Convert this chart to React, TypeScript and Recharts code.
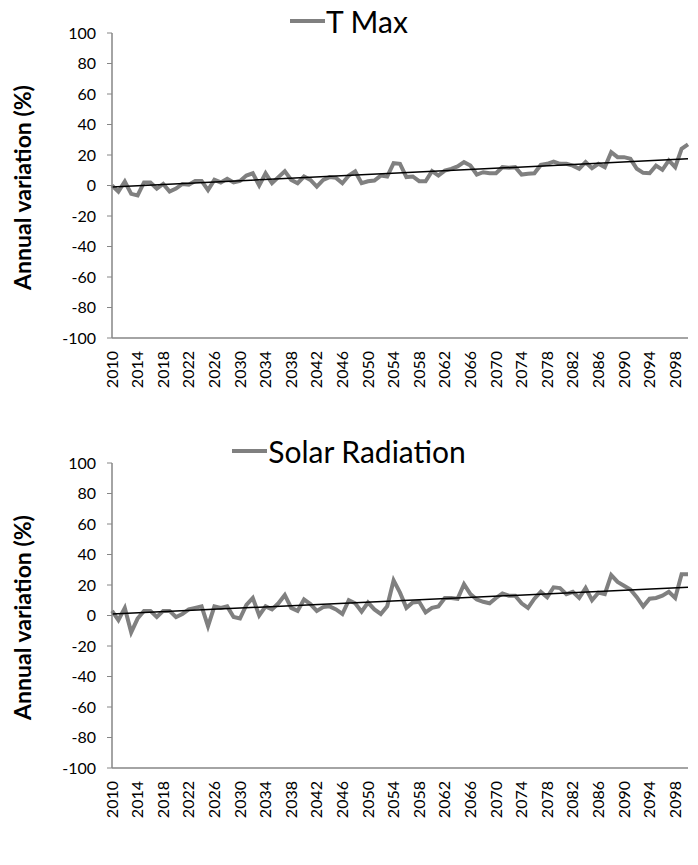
import React from 'react';
import { LineChart, Line, XAxis, YAxis, ReferenceLine, Legend } from 'recharts';

const years: string[] = Array.from({ length: 91 }, (_, i) => String(2010 + i));

const tMax = [
  0, -4, 2.6, -5.5, -6.5, 2, 2, -2, 1, -4,
  -2, 1, 0.5, 3, 3, -3, 3.7, 2, 4.4, 2,
  3, 6.5, 8, 0, 8, 1.5, 5.5, 9.4, 3.7, 1.5,
  5.9, 3.7, -0.7, 3.7, 5.5, 5, 1.5, 6.5, 9.2, 1.5,
  2.8, 3.3, 6.5, 5.9, 14.6, 14.2, 5.5, 5.9, 2.8, 2.8,
  9.4, 6.5, 9.8, 10.9, 12.5, 15.3, 13.1, 7.2, 8.7, 8,
  8, 12, 11.6, 12, 7.2, 7.7, 8, 13.5, 14.2, 15.7,
  14.2, 14.2, 13, 11, 15.3, 11.4, 14.2, 12, 21.9, 18.6,
  18.6, 17.5, 11, 8.3, 8, 13, 10.3, 16.4, 12, 24,
  26.9,
];

const solar = [
  3, -3, 5, -11, -2, 3, 3, -1, 3, 3,
  -1, 1, 4, 5, 6, -7, 6, 5, 6, -1,
  -2, 7, 11.5, 0, 6, 4, 8, 13.5, 5, 3,
  10.5, 7.5, 3, 5.5, 6, 4, 1, 10, 8, 2.5,
  8.5, 4, 1, 6, 23, 15, 5, 8.5, 9, 2,
  5, 6, 11.5, 11.5, 11, 20.5, 14, 10.5, 9, 8,
  11.5, 14.5, 13, 13, 8, 5, 11, 15.5, 12, 18.5,
  18, 14, 15.5, 11.5, 18, 10, 15, 14, 26.5, 22,
  19.5, 17, 12, 6, 11, 11.5, 13, 15.5, 11.5, 27,
  27,
];

const tMaxTrend = [-1, 17.5];
const solarTrend = [1, 18.5];
const yTicks = [-100, -80, -60, -40, -20, 0, 20, 40, 60, 80, 100];

const FONT = 'Lato, "Open Sans", sans-serif';
const LINE_COLOR = '#808080';
const AXIS_COLOR = '#868686';

const XTick = (props: any) => {
  const { x, y, payload } = props;
  return (
    <text
      x={x}
      y={y}
      transform={`rotate(-90, ${x}, ${y})`}
      textAnchor="end"
      dx={-5}
      dy="0.35em"
      fontFamily={FONT}
      fontSize={16}
      fill="#000"
    >
      {payload.value}
    </text>
  );
};

const YTitle = (props: any) => {
  const vb = props.viewBox || { y: 0, height: 0 };
  const cy = vb.y + vb.height / 2;
  return (
    <text
      x={0}
      y={0}
      transform={`translate(22, ${cy + 2}) rotate(-90)`}
      textAnchor="middle"
      dominantBaseline="central"
      fontFamily={FONT}
      fontWeight={700}
      fontSize={23}
      fill="#000"
    >
      Annual variation (%)
    </text>
  );
};

const makeLegend = (label: string) => () => (
  <div
    style={{
      display: 'flex',
      justifyContent: 'center',
      alignItems: 'center',
      fontFamily: FONT,
      fontSize: 30,
      color: '#000',
      lineHeight: '30px',
    }}
  >
    <svg width={35} height={10} style={{ marginRight: 1 }}>
      <line x1={0} y1={5} x2={35} y2={5} stroke={LINE_COLOR} strokeWidth={4} />
    </svg>
    <span>{label}</span>
  </div>
);

function Panel({ label, values, trend }: { label: string; values: number[]; trend: number[] }) {
  const data = years.map((yr, i) => ({ year: yr, v: values[i] }));
  return (
    <LineChart
      width={698}
      height={430}
      data={data}
      margin={{ top: 33, right: 10, bottom: 32, left: 0 }}
    >
      <XAxis
        dataKey="year"
        type="category"
        interval={3}
        height={60}
        tick={<XTick />}
        tickLine={false}
        axisLine={{ stroke: AXIS_COLOR, strokeWidth: 1.5 }}
      />
      <YAxis
        type="number"
        domain={[-100, 100]}
        ticks={yTicks}
        width={112}
        interval={0}
        tickSize={5}
        tickMargin={11}
        tickLine={{ stroke: AXIS_COLOR }}
        axisLine={{ stroke: AXIS_COLOR, strokeWidth: 1.5 }}
        tick={{ fontFamily: FONT, fontSize: 16, fill: '#000' }}
        label={<YTitle />}
      />
      <Legend
        verticalAlign="top"
        content={makeLegend(label)}
        wrapperStyle={{ top: 6, left: 0, width: 698, height: 0, overflow: 'visible' }}
      />
      <Line
        type="linear"
        dataKey="v"
        name={label}
        stroke={LINE_COLOR}
        strokeWidth={4}
        dot={false}
        activeDot={false}
        isAnimationActive={false}
      />
      <ReferenceLine
        segment={[
          { x: years[0], y: trend[0] },
          { x: years[years.length - 1], y: trend[1] },
        ]}
        stroke="#000"
        strokeWidth={1.5}
        ifOverflow="visible"
      />
    </LineChart>
  );
}

export default function App() {
  return (
    <div style={{ position: 'absolute', left: 0, top: 0, width: 698, height: 865, background: '#fff' }}>
      <Panel label="T Max" values={tMax} trend={tMaxTrend} />
      <Panel label="Solar Radiation" values={solar} trend={solarTrend} />
    </div>
  );
}
